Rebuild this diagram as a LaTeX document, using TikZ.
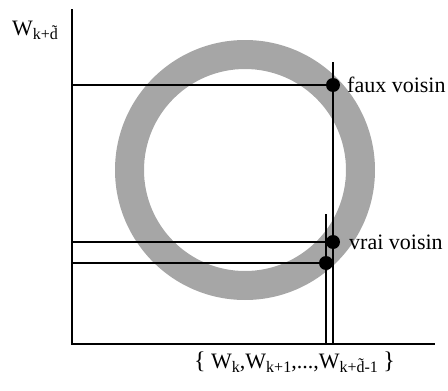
\documentclass[tikz,border=0pt]{standalone}
\usepackage{fontspec}
\setmainfont{Liberation Serif}
\usetikzlibrary{positioning}
\definecolor{RingGray}{RGB}{166,166,166}
\newcommand{\sbsc}[1]{\raisebox{-0.22em}{\fontsize{16}{18}\selectfont #1}}
\tikzset{
  axis/.style={draw=black,line width=1.8pt},
  guide/.style={draw=black,line width=1.8pt},
  dot/.style={circle,fill=black,inner sep=0pt,minimum size=14pt},
  lab/.style={inner sep=0pt,font=\fontsize{22}{26}\selectfont},
}

\begin{document}
\begin{tikzpicture}[x=1pt,y=-1pt]
\useasboundingbox (0,0) rectangle (448,391);
% ring
\fill[RingGray,even odd rule] (245,170) circle[radius=130] (245,170) circle[radius=101];
% axes
\coordinate (ytop) at (72,9);
\coordinate (orig) at (72,344);
\coordinate (xend) at (435,344);
\draw[axis] (ytop) -- (orig) -- (xend);
% neighbours
\coordinate (gf) at (333,85);
\coordinate (gv) at (333,242);
\coordinate (gw) at (326,263);
\coordinate (gfy) at (72,85);
\coordinate (gvy) at (72,242);
\coordinate (gwy) at (72,263);
\coordinate (gftop) at (333,62);
\coordinate (gwtop) at (326,214);
\coordinate (gfx) at (333,344);
\coordinate (gwx) at (326,344);
\draw[guide] (gfy) -- (gf);
\draw[guide] (gvy) -- (gv);
\draw[guide] (gwy) -- (gw);
\draw[guide] (gftop) -- (gfx);
\draw[guide] (gwtop) -- (gwx);
\node[dot] (faux) at (gf) {};
\node[dot] (vrai) at (gv) {};
\node[dot] (vraib) at (gw) {};
% labels
\node[lab,anchor=west] (fauxlab) at (347,85) {faux voisin};
\node[lab,anchor=west] (vrailab) at (349,242) {vrai voisin};
\node[lab,anchor=base west] (ylab) at (12,35) {W\sbsc{k+\~{d}}};
\node[lab,anchor=base west] (xlab) at (194,368) {{\fontsize{24}{26}\selectfont\{}\ W\sbsc{k},W\sbsc{k+1},...,W\sbsc{k+\~{d}-1}\ {\fontsize{24}{26}\selectfont\}}};
\end{tikzpicture}
\end{document}
